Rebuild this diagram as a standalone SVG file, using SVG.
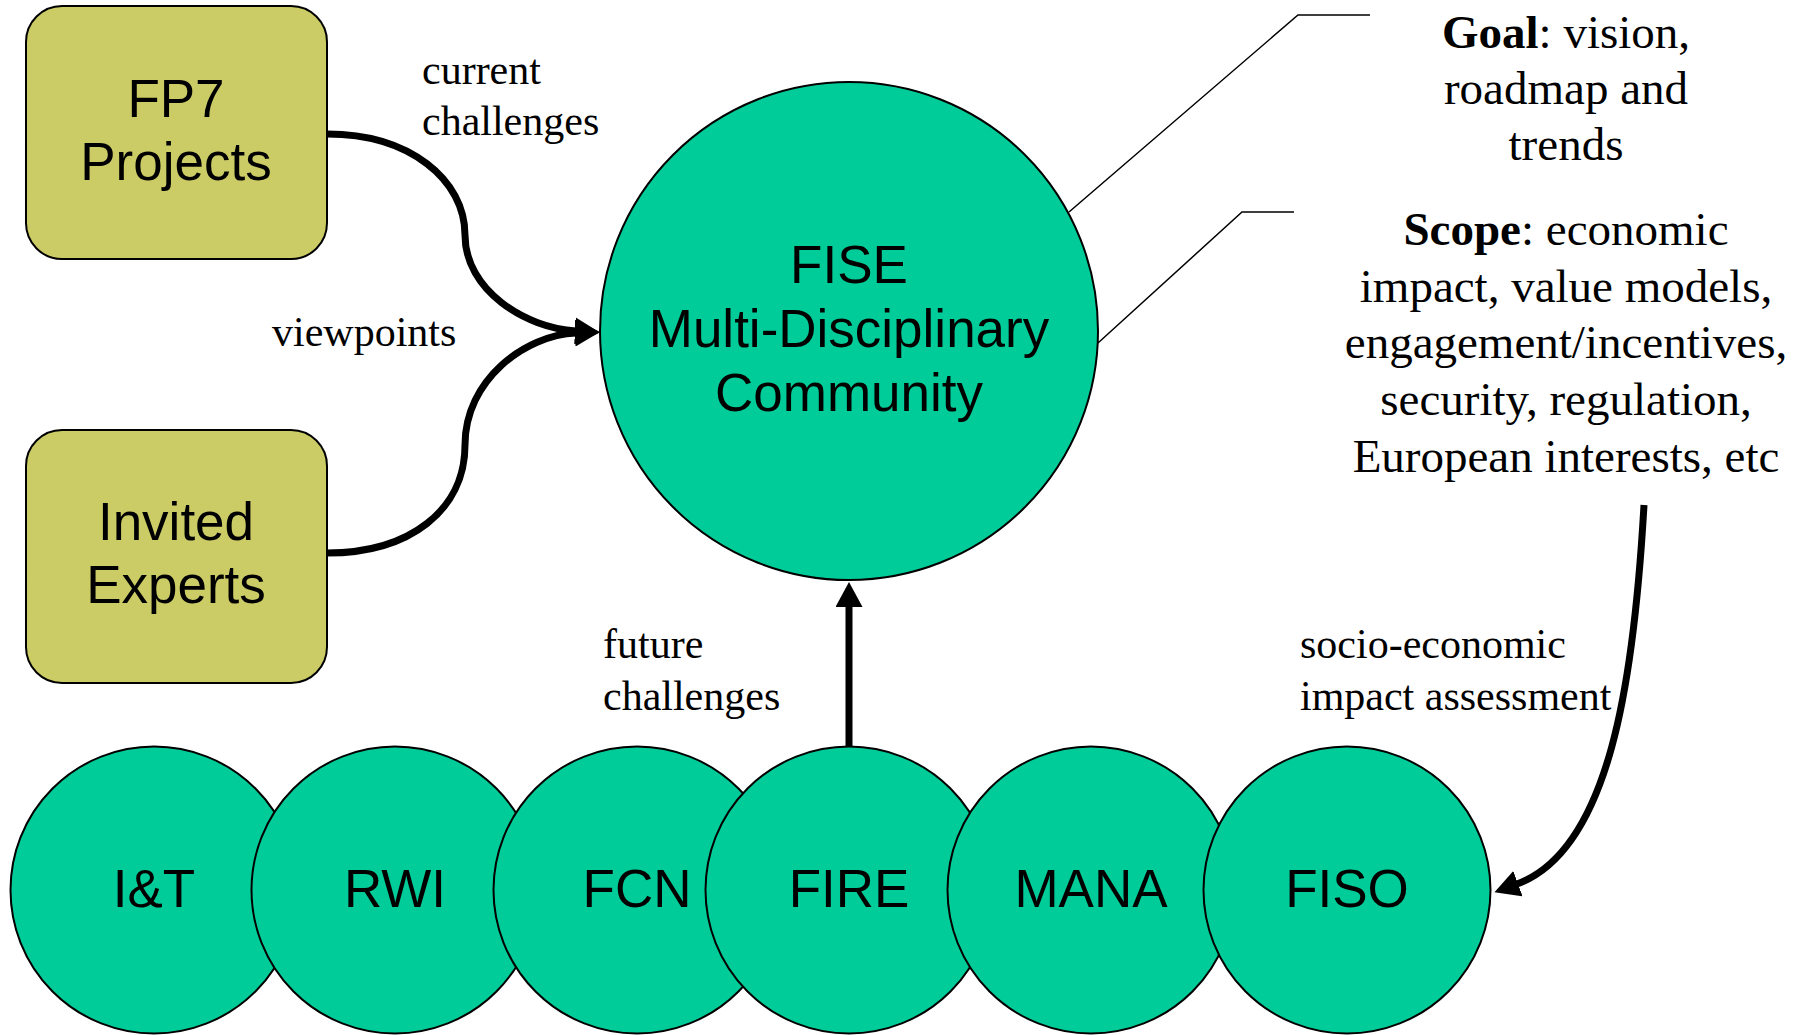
<svg xmlns="http://www.w3.org/2000/svg" width="1808" height="1035" viewBox="0 0 1808 1035">
<style>
.box{fill:#CCCC66;stroke:#000;stroke-width:2}
.circ{fill:#00CC99;stroke:#000;stroke-width:2}
.sans{font-family:"Liberation Sans",Arial,sans-serif;font-size:53px;fill:#000;text-anchor:middle}
.serif{font-family:"Liberation Serif","Times New Roman",serif;fill:#000}
.lbl{font-size:42px}
.blk{font-size:47px;text-anchor:middle}
.conn{fill:none;stroke:#000;stroke-width:7}
.thin{fill:none;stroke:#000;stroke-width:1.5}
</style>
<defs>
<marker id="ah" markerUnits="userSpaceOnUse" markerWidth="26" markerHeight="27" viewBox="0 0 26 27" refX="1" refY="13.5" orient="auto">
<path d="M0,0 L25,13.5 L0,27 Z" fill="#000"/>
</marker>
</defs>
<g id="fp7">
<rect class="box" x="26" y="6" width="301" height="253" rx="36" ry="36"/>
<text class="sans" x="176" y="117">FP7</text>
<text class="sans" x="176" y="180">Projects</text>
</g>
<g id="invited">
<rect class="box" x="26" y="430" width="301" height="253" rx="36" ry="36"/>
<text class="sans" x="176" y="540">Invited</text>
<text class="sans" x="176" y="603">Experts</text>
</g>
<g id="fise">
<circle class="circ" cx="849" cy="331" r="249"/>
<text class="sans" x="849" y="283">FISE</text>
<text class="sans" x="849" y="347">Multi-Disciplinary</text>
<text class="sans" x="849" y="411">Community</text>
</g>
<g id="it"><circle class="circ" cx="154" cy="890" r="143.5"/><text class="sans" x="154" y="907">I&amp;T</text></g>
<g id="rwi"><circle class="circ" cx="395" cy="890" r="143.5"/><text class="sans" x="395" y="907">RWI</text></g>
<g id="fcn"><circle class="circ" cx="637" cy="890" r="143.5"/><text class="sans" x="637" y="907">FCN</text></g>
<g id="fire"><circle class="circ" cx="849" cy="890" r="143.5"/><text class="sans" x="849" y="907">FIRE</text></g>
<g id="mana"><circle class="circ" cx="1091" cy="890" r="143.5"/><text class="sans" x="1091" y="907">MANA</text></g>
<g id="fiso"><circle class="circ" cx="1347" cy="890" r="143.5"/><text class="sans" x="1347" y="907">FISO</text></g>
<g id="goal">
<text class="serif blk" x="1566" y="48"><tspan font-weight="bold">Goal</tspan>: vision,</text>
<text class="serif blk" x="1566" y="104">roadmap and</text>
<text class="serif blk" x="1566" y="160">trends</text>
</g>
<g id="scope">
<text class="serif blk" x="1566" y="245"><tspan font-weight="bold">Scope</tspan>: economic</text>
<text class="serif blk" x="1566" y="302">impact, value models,</text>
<text class="serif blk" x="1566" y="358">engagement/incentives,</text>
<text class="serif blk" x="1566" y="415">security, regulation,</text>
<text class="serif blk" x="1566" y="472">European interests, etc</text>
</g>
<g id="connectors">
<path class="conn" d="M327,134 C410,134 465,180 465,235 C465,290 525,328 576,331" marker-end="url(#ah)"/>
<path class="conn" d="M327,553 C410,553 465,510 465,445 C465,380 525,335 576,333" marker-end="url(#ah)"/>
<path class="conn" d="M849,746 L849,606" marker-end="url(#ah)"/>
<path class="conn" d="M1644,505 C1634,680 1610,850 1517,884" stroke-width="6" marker-end="url(#ah)"/>
<polyline class="thin" points="1069,212 1298,15 1370,15"/>
<polyline class="thin" points="1098,343 1242,212 1294,212"/>
</g>
<g id="labels">
<text class="serif lbl" x="422" y="84">current</text>
<text class="serif lbl" x="422" y="135">challenges</text>
<text class="serif lbl" x="272" y="346">viewpoints</text>
<text class="serif lbl" x="603" y="658">future</text>
<text class="serif lbl" x="603" y="710">challenges</text>
<text class="serif lbl" x="1300" y="658">socio-economic</text>
<text class="serif lbl" x="1300" y="710">impact assessment</text>
</g>
</svg>
